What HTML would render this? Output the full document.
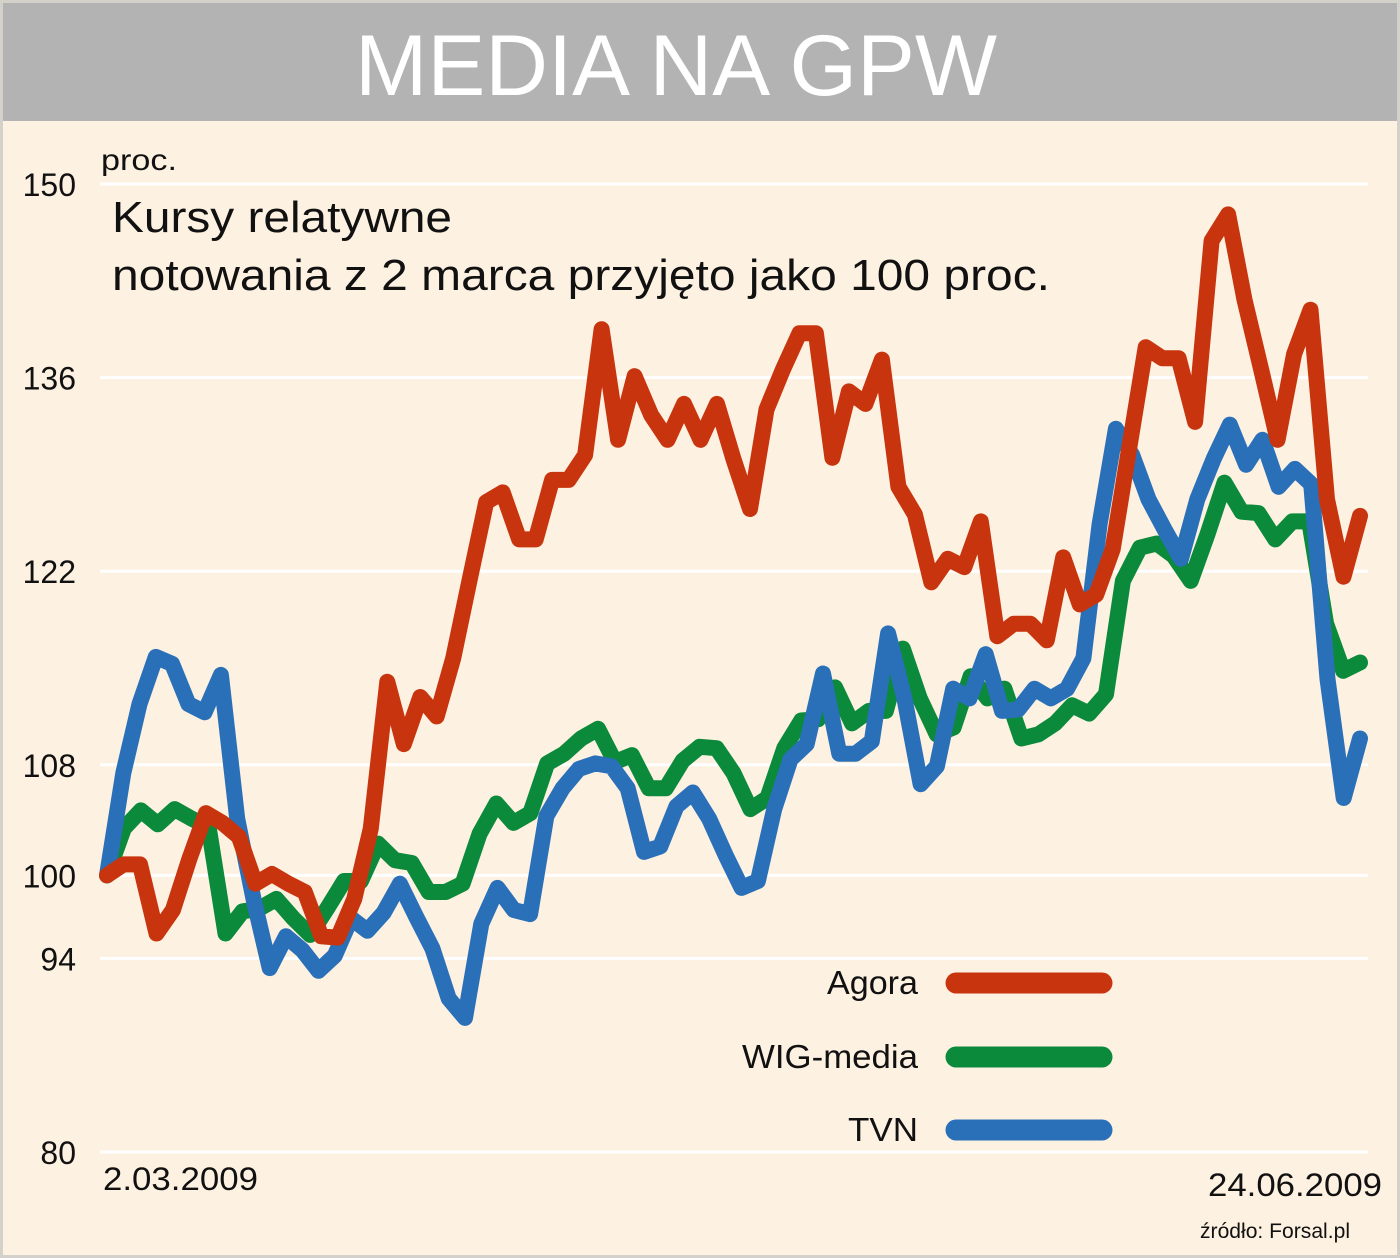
<!DOCTYPE html>
<html><head><meta charset="utf-8">
<style>
html,body{margin:0;padding:0;}
body{width:1400px;height:1258px;background:#fdf1e1;position:relative;overflow:hidden;font-family:"Liberation Sans",sans-serif;}
#frame{position:absolute;left:0;top:0;width:1394px;height:1252px;border:3px solid #d4d0ca;}
#titlebar{position:absolute;left:3px;top:3px;width:1394px;height:118px;background:#b3b3b3;}
svg{position:absolute;left:0;top:0;}
</style></head>
<body>
<div id="frame"></div>
<div id="titlebar"></div>
<svg id="chart" width="1400" height="1258"></svg>
<script>
const yTicks=[150,136,122,108,100,94,80];
const seriesNames=["Agora","WIG-media","TVN"];
const agora=[100,100.8,100.8,95.8,97.5,101.2,104.5,103.8,102.8,99.4,100.1,99.4,98.8,95.6,95.5,98.3,103.4,114.0,109.5,112.9,111.5,115.7,121.4,127.0,127.7,124.3,124.3,128.6,128.6,130.4,139.5,131.5,136.1,133.3,131.5,134.1,131.5,134.1,130.1,126.5,133.7,136.6,139.2,139.2,130.2,135.0,134.1,137.3,128.1,126.1,121.2,122.9,122.3,125.6,117.3,118.2,118.2,117.0,123.0,119.6,120.3,123.6,130.9,138.2,137.4,137.4,132.8,145.9,147.8,141.6,136.6,131.5,137.7,140.9,127.2,121.6,126.0];
const wig=[100,103.4,104.7,103.7,104.8,104.1,103.5,95.8,97.4,97.6,98.3,96.9,95.7,97.6,99.6,99.6,102.3,101.1,100.9,98.8,98.8,99.4,103.0,105.2,103.8,104.5,108.1,108.8,109.9,110.6,108.2,108.7,106.3,106.3,108.3,109.3,109.2,107.4,104.8,105.6,109.2,111.2,111.3,113.6,111.0,111.9,111.9,116.4,112.8,110.2,110.7,114.4,112.8,113.5,109.9,110.2,111.0,112.3,111.7,113.1,121.3,123.7,124.0,123.1,121.3,124.7,128.4,126.3,126.2,124.3,125.6,125.6,118.2,114.8,115.4];
const tvn=[100,107.4,112.4,115.8,115.3,112.4,111.8,114.5,104.1,98.3,93.3,95.6,94.6,93.1,94.2,96.9,96.0,97.3,99.4,97.0,94.7,91.1,89.7,96.5,99.1,97.5,97.2,104.3,106.3,107.7,108.1,107.9,106.3,101.7,102.1,105.0,106.0,104.1,101.5,99.1,99.6,104.8,108.4,109.5,114.6,108.8,108.8,109.7,117.5,112.8,106.6,107.9,113.5,112.8,116.0,111.9,112.0,113.5,112.8,113.5,115.7,125.4,132.3,130.4,127.2,125.0,122.9,127.2,130.1,132.6,129.7,131.5,128.1,129.4,128.3,114.2,105.6,109.9];
const colors=["#c8340e","#0a8a3a","#2a70b8"];
const NS="http://www.w3.org/2000/svg";
const svg=document.getElementById('chart');
const X0=107,X1=1360;
function yScale(v){return 184+(150-v)*(968/70);}
function xScale(i,n){return X0+(X1-X0)*i/(n-1);}
function mk(tag,attrs){const e=document.createElementNS(NS,tag);for(const k in attrs)e.setAttribute(k,attrs[k]);svg.appendChild(e);return e;}
function txt(x,y,s,size,name,anchor,len,fill){const a={x:x,y:y,'font-size':size,fill:fill||'#111','font-family':'Liberation Sans, sans-serif','text-anchor':anchor||'start'};if(len){a.textLength=len;a.lengthAdjust='spacingAndGlyphs';}const t=mk('text',a);t.textContent=s;return t;}
txt(355,95,'MEDIA NA GPW',86,'chart-title','start',642,'#ffffff');
yTicks.forEach(t=>{
  const y=yScale(t);
  const g=mk('line',{x1:100,x2:1368,y1:y,y2:y,stroke:'#ffffff','stroke-width':3});
  
  
  const l=mk('text',{x:76,y:y+12,'text-anchor':'end','font-size':32,fill:'#111','font-family':'Liberation Sans, sans-serif'});
  l.textContent=t;
  
  
});
txt(101,170,'proc.',30,'y-axis-unit','start',76);
txt(112,232,'Kursy relatywne',44,'subtitle','start',340);
txt(112,290,'notowania z 2 marca przyjęto jako 100 proc.',44,'subtitle-note','start',938);
txt(103,1190,'2.03.2009',32,'x-start-label','start',155);
txt(1382,1196,'24.06.2009',32,'x-end-label','end',174);
txt(1350,1238,'źródło: Forsal.pl',21,'source-note','end',150);
[[wig,1,'wig-media'],[tvn,2,'tvn'],[agora,0,'agora']].forEach(([d,ci,nm])=>{
  const pts=d.map((v,i)=>xScale(i,d.length).toFixed(1)+','+yScale(v).toFixed(1)).join(' ');
  const p=mk('polyline',{points:pts,fill:'none',stroke:colors[ci],'stroke-width':16,'stroke-linejoin':'round','stroke-linecap':'round'});
  
  
});
const legY=[983,1057,1130];
const legW=[91,176,70];
seriesNames.forEach((n,i)=>{
  const l=mk('line',{x1:956,x2:1102,y1:legY[i],y2:legY[i],stroke:colors[i],'stroke-width':21,'stroke-linecap':'round'});
  
  
  txt(918,legY[i]+11,n,33,'legend-label-'+i,'end',legW[i]);
});
</script>
</body></html>
